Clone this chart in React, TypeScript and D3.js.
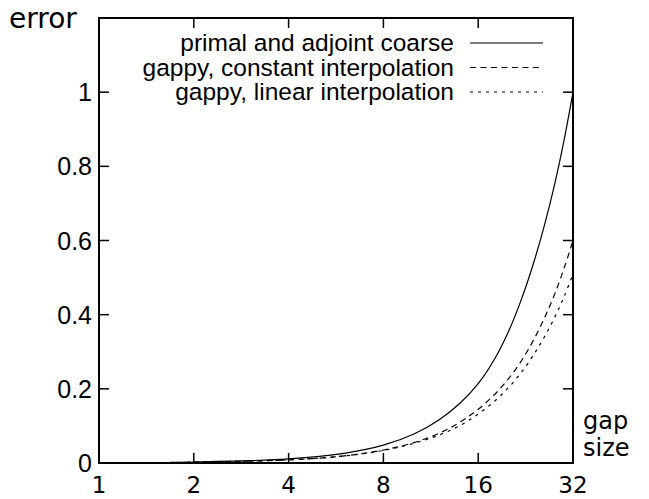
import React from "react";
import * as d3 from "d3";

// gap sizes (x) and error values
const gapSizes = [1, 2, 4, 6, 8, 10, 12, 14, 16, 18, 20, 22, 24, 26, 28, 30, 32];
const primalCoarse = [
  0, 0.0025, 0.011, 0.026, 0.048, 0.078, 0.116, 0.161, 0.214, 0.279, 0.356, 0.444, 0.54, 0.643, 0.753, 0.872, 1.0,
];
const gappyConstant = [
  0, 0.002, 0.0085, 0.019, 0.035, 0.055, 0.08, 0.11, 0.145, 0.184, 0.228, 0.277, 0.332, 0.392, 0.456, 0.526, 0.6,
];
const gappyLinear = [
  0, 0.0023, 0.0088, 0.019, 0.034, 0.053, 0.075, 0.101, 0.132, 0.166, 0.204, 0.246, 0.292, 0.341, 0.393, 0.449, 0.51,
];

const xTicks = [1, 2, 4, 8, 16, 32];
const yTicks = [0, 0.2, 0.4, 0.6, 0.8, 1];

const seriesNames = [
  "primal and adjoint coarse",
  "gappy, constant interpolation",
  "gappy, linear interpolation",
];
const dashes = ["none", "6,4.5", "3,5"];

const W = 649;
const H = 499;
const margin = { left: 99, right: 76, top: 18, bottom: 36 };

const App: React.FC = () => {
  const x = d3
    .scaleLog()
    .base(2)
    .domain([1, 32])
    .range([margin.left, W - margin.right]);
  const y = d3
    .scaleLinear()
    .domain([0, 1.2])
    .range([H - margin.bottom, margin.top]);

  const series = [primalCoarse, gappyConstant, gappyLinear];

  // smooth curves through the read points (log x axis)
  const line = d3
    .line<number>()
    .x((_, i) => x(gapSizes[i]))
    .y((d) => y(d))
    .curve(d3.curveCatmullRom.alpha(0.5));

  const x0 = x(1);
  const x1 = x(32);
  const y0 = y(0);
  const y1 = y(1.2);
  const tickLen = 10;

  const legendRight = 454;
  const legendLineX = [470, 543];
  const legendRow = (i: number) => 43 + i * 24.5;

  return (
    <div style={{ position: "absolute", left: 0, top: 0 }}>
      <svg width={W} height={H} style={{ display: "block", background: "#fff" }}>
        {/* curves */}
        {series.map((s, i) => (
          <path
            key={seriesNames[i]}
            d={line(s) ?? ""}
            fill="none"
            stroke="#000"
            strokeWidth={1.2}
            strokeDasharray={dashes[i]}
          />
        ))}

        {/* y ticks, both sides */}
        {yTicks.map((t) => (
          <g key={"y" + t}>
            <line x1={x0} x2={x0 + tickLen} y1={y(t)} y2={y(t)} stroke="#000" strokeWidth={1.5} />
            <line x1={x1} x2={x1 - tickLen} y1={y(t)} y2={y(t)} stroke="#000" strokeWidth={1.5} />
            <text
              x={x0 - 7}
              y={y(t)}
              textAnchor="end"
              dominantBaseline="central"
              fontFamily="Liberation Sans, Arial, sans-serif"
              fontSize={25}
            >
              {t}
            </text>
          </g>
        ))}

        {/* x ticks, bottom and top */}
        {xTicks.map((t) => (
          <g key={"x" + t}>
            <line x1={x(t)} x2={x(t)} y1={y0} y2={y0 - tickLen} stroke="#000" strokeWidth={1.5} />
            <line x1={x(t)} x2={x(t)} y1={y1} y2={y1 + tickLen} stroke="#000" strokeWidth={1.5} />
            <text
              x={x(t)}
              y={493}
              textAnchor="middle"
              fontFamily="DejaVu Sans, sans-serif"
              fontSize={23}
            >
              {t}
            </text>
          </g>
        ))}

        {/* frame */}
        <rect
          x={x0}
          y={y1}
          width={x1 - x0}
          height={y0 - y1}
          fill="none"
          stroke="#000"
          strokeWidth={2}
        />

        {/* axis labels */}
        <text x={9} y={28} fontFamily="DejaVu Sans, sans-serif" fontSize={28}>
          error
        </text>
        <text x={583} y={429} fontFamily="DejaVu Sans, sans-serif" fontSize={24}>
          gap
        </text>
        <text x={583} y={456} fontFamily="DejaVu Sans, sans-serif" fontSize={24}>
          size
        </text>

        {/* legend */}
        {seriesNames.map((name, i) => (
          <g key={"leg" + i}>
            <text
              x={legendRight}
              y={legendRow(i) + 8}
              textAnchor="end"
              fontFamily="Liberation Sans, Arial, sans-serif"
              fontSize={24.5}
            >
              {name}
            </text>
            <line
              x1={legendLineX[0]}
              x2={legendLineX[1]}
              y1={legendRow(i)}
              y2={legendRow(i)}
              stroke="#000"
              strokeWidth={1.2}
              strokeDasharray={dashes[i]}
            />
          </g>
        ))}
      </svg>
    </div>
  );
};

export default App;
